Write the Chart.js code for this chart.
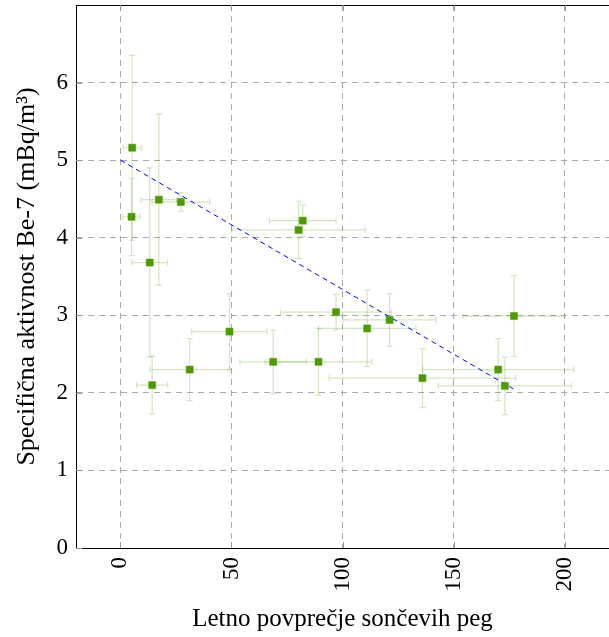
<!DOCTYPE html>
<html lang="sl">
<head>
    <meta charset="UTF-8">
    <title>Be-7 vs sončeve pege</title>
    <script src="https://cdn.jsdelivr.net/npm/chart.js"></script>
    <style>
        html, body { margin: 0; padding: 0; background: #fff; }
        #wrap { width: 609px; height: 637px; }
    </style>
</head>
<body>
    <div id="wrap"><canvas id="chart" width="609" height="637"></canvas></div>

    <script>
        // Measured points (sunspot number vs Be-7 activity)
        const sunspots  = [5.3, 5.0, 17.3, 27.2, 13.2, 14.3, 31.2, 49.1, 68.8, 89.2, 82.1, 80.2, 97.1, 111.1, 121.2, 136.0, 177.2, 170.1, 173.1];
        const activity  = [5.16, 4.27, 4.49, 4.46, 3.68, 2.10, 2.30, 2.79, 2.40, 2.40, 4.22, 4.10, 3.04, 2.83, 2.94, 2.19, 2.99, 2.30, 2.09];
        const sunspotErr  = [4, 4, 8, 13, 8, 7, 18, 17, 15, 24, 15, 30, 25, 22, 21, 42, 23, 34, 30];
        const activityErr = [1.19, 0.5, 1.1, 0.12, 1.22, 0.37, 0.4, 0.49, 0.41, 0.43, 0.2, 0.37, 0.23, 0.49, 0.34, 0.38, 0.52, 0.4, 0.37];

        // Linear fit end points
        const fitX = [0, 177];
        const fitY = [5.0, 2.05];

        const xTicks = [0, 50, 100, 150, 200];
        const yTicks = [0, 1, 2, 3, 4, 5, 6];

        const serif = 'Liberation Serif';

        const points = sunspots.map((x, i) => ({ x: x, y: activity[i] }));
        const fitLine = fitX.map((x, i) => ({ x: x, y: fitY[i] }));

        // error bars, inner ticks and top frame line
        const extras = {
            id: 'extras',
            beforeDatasetsDraw(chart) {
                const ctx = chart.ctx;
                const xs = chart.scales.x, ys = chart.scales.y;
                const cap = 3;
                ctx.save();
                ctx.strokeStyle = 'rgba(78,154,6,0.25)';
                ctx.lineWidth = 1.2;
                sunspots.forEach((x, i) => {
                    const px = xs.getPixelForValue(x);
                    const py = ys.getPixelForValue(activity[i]);
                    const x1 = xs.getPixelForValue(x - sunspotErr[i]);
                    const x2 = xs.getPixelForValue(x + sunspotErr[i]);
                    const y1 = ys.getPixelForValue(activity[i] + activityErr[i]);
                    const y2 = ys.getPixelForValue(activity[i] - activityErr[i]);
                    ctx.beginPath();
                    ctx.moveTo(x1, py); ctx.lineTo(x2, py);
                    ctx.moveTo(x1, py - cap); ctx.lineTo(x1, py + cap);
                    ctx.moveTo(x2, py - cap); ctx.lineTo(x2, py + cap);
                    ctx.moveTo(px, y1); ctx.lineTo(px, y2);
                    ctx.moveTo(px - cap, y1); ctx.lineTo(px + cap, y1);
                    ctx.moveTo(px - cap, y2); ctx.lineTo(px + cap, y2);
                    ctx.stroke();
                });
                ctx.restore();
            },
            afterDraw(chart) {
                const ctx = chart.ctx;
                const a = chart.chartArea;
                const xs = chart.scales.x, ys = chart.scales.y;
                ctx.save();
                ctx.strokeStyle = '#000';
                ctx.lineWidth = 1;
                ctx.beginPath();
                ctx.moveTo(a.left, a.top + 0.5);
                ctx.lineTo(a.right, a.top + 0.5);
                ctx.stroke();
                ctx.strokeStyle = '#999';
                ctx.beginPath();
                xTicks.forEach(v => {
                    const px = Math.round(xs.getPixelForValue(v)) + 0.5;
                    ctx.moveTo(px, a.bottom); ctx.lineTo(px, a.bottom - 6);
                    ctx.moveTo(px, a.top); ctx.lineTo(px, a.top + 6);
                });
                yTicks.forEach(v => {
                    const py = Math.round(ys.getPixelForValue(v)) + 0.5;
                    ctx.moveTo(a.left, py); ctx.lineTo(a.left + 6, py);
                });
                ctx.stroke();
                ctx.restore();
            }
        };

        new Chart(document.getElementById('chart'), {
            type: 'scatter',
            data: {
                datasets: [{
                    data: points,
                    pointStyle: 'rect',
                    pointRadius: 5,
                    pointBackgroundColor: '#4e9a06',
                    pointBorderColor: '#4e9a06',
                    pointBorderWidth: 0.5,
                    order: 1
                }, {
                    type: 'line',
                    data: fitLine,
                    borderColor: '#0000ff',
                    borderWidth: 1,
                    borderDash: [5, 4],
                    pointRadius: 0,
                    fill: false,
                    order: 2
                }]
            },
            options: {
                responsive: false,
                animation: false,
                layout: { autoPadding: false, padding: { top: 5, right: 0, left: 0, bottom: 0 } },
                plugins: { legend: { display: false }, tooltip: { enabled: false } },
                scales: {
                    x: {
                        type: 'linear',
                        min: -20,
                        max: 220,
                        afterBuildTicks: s => { s.ticks = xTicks.map(v => ({ value: v })); },
                        afterFit: s => { s.height = 89; s.paddingLeft = 0; s.paddingRight = 0; },
                        grid: { color: '#aaa', lineWidth: 1, drawTicks: false },
                        border: { display: true, color: '#000', width: 1, dash: [6, 5] },
                        ticks: {
                            minRotation: 90, maxRotation: 90, padding: 9,
                            color: '#000', font: { family: serif, size: 23 }
                        },
                        title: {
                            display: true,
                            text: 'Letno povprečje sončevih peg',
                            color: '#000',
                            font: { family: serif, size: 25 },
                            padding: { top: 0, bottom: 3 }
                        }
                    },
                    y: {
                        min: 0,
                        max: 7,
                        afterBuildTicks: s => { s.ticks = yTicks.map(v => ({ value: v })); },
                        afterFit: s => { s.width = 76; s.paddingTop = 0; s.paddingBottom = 0; },
                        grid: { color: '#aaa', lineWidth: 1, drawTicks: false },
                        border: { display: true, color: '#000', width: 1, dash: [6, 5] },
                        ticks: {
                            padding: 8,
                            color: '#000', font: { family: serif, size: 23 }
                        },
                        title: {
                            display: true,
                            text: 'Specifična aktivnost Be-7 (mBq/m³)',
                            color: '#000',
                            font: { family: serif, size: 26 },
                            padding: { top: 12, bottom: 0 }
                        }
                    }
                }
            },
            plugins: [extras]
        });
    </script>
</body>
</html>
